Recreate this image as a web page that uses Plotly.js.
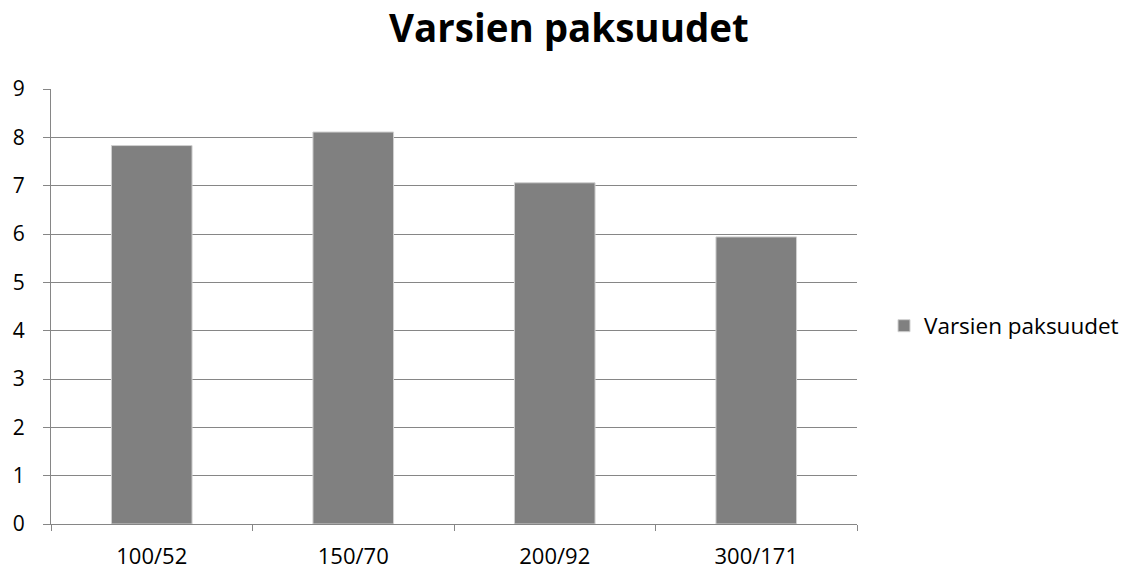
<!DOCTYPE html>
<html>
<head>
<meta charset="utf-8">
<script src="https://cdn.plot.ly/plotly-3.0.1.min.js"></script>
<style>html,body{margin:0;padding:0;background:#fff;}#chart{width:1131px;height:572px;}</style>
</head>
<body>
<div id="chart"></div>
<script>
var categories = ["100/52", "150/70", "200/92", "300/171"];
var values = [7.83, 8.11, 7.06, 5.94];
var seriesName = "Varsien paksuudet";
var yTicks = [0, 1, 2, 3, 4, 5, 6, 7, 8, 9];

var FONT = "Open Sans, Liberation Sans, sans-serif";

var trace = {
  type: "bar",
  x: categories,
  y: values,
  name: seriesName,
  marker: {color: "#808080", line: {color: "#d0d0d0", width: 1}},
  showlegend: true
};

var layout = {
  width: 1131,
  height: 572,
  paper_bgcolor: "#ffffff",
  plot_bgcolor: "#ffffff",
  margin: {l: 51, r: 274, t: 89, b: 48, pad: 0, autoexpand: false},
  title: {
    text: "<b>Varsien paksuudet</b>",
    font: {family: FONT, size: 38.5, color: "#000000"},
    x: 0.503, xanchor: "center", xref: "container",
    y: 0.95, yanchor: "middle", yref: "container"
  },
  bargap: 0.6,
  xaxis: {
    type: "category",
    tickson: "boundaries",
    ticks: "outside",
    ticklen: 6,
    tickcolor: "#868686",
    tickwidth: 1,
    showline: true,
    linecolor: "#868686",
    linewidth: 1,
    showgrid: false,
    zeroline: false,
    tickfont: {family: FONT, size: 22, color: "#000000"},
    ticklabelstandoff: 13
  },
  yaxis: {
    range: [0, 9],
    tickvals: yTicks,
    ticktext: yTicks.map(String),
    ticks: "outside",
    ticklen: 7,
    tickcolor: "#868686",
    tickwidth: 1,
    showline: true,
    linecolor: "#868686",
    linewidth: 1,
    showgrid: true,
    gridcolor: "#868686",
    gridwidth: 1,
    zeroline: false,
    tickfont: {family: FONT, size: 21, color: "#000000"},
    ticklabelstandoff: 14
  },
  showlegend: true
};
layout.legend = {
  x: (884 - 51) / (1131 - 51 - 274),
  xanchor: "left",
  y: 0.455,
  yanchor: "middle",
  font: {family: FONT, size: 22.5, color: "#000000"},
  bgcolor: "rgba(0,0,0,0)",
  itemwidth: 30
};

Plotly.newPlot("chart", [trace], layout, {displayModeBar: false, staticPlot: true});
</script>
</body>
</html>
